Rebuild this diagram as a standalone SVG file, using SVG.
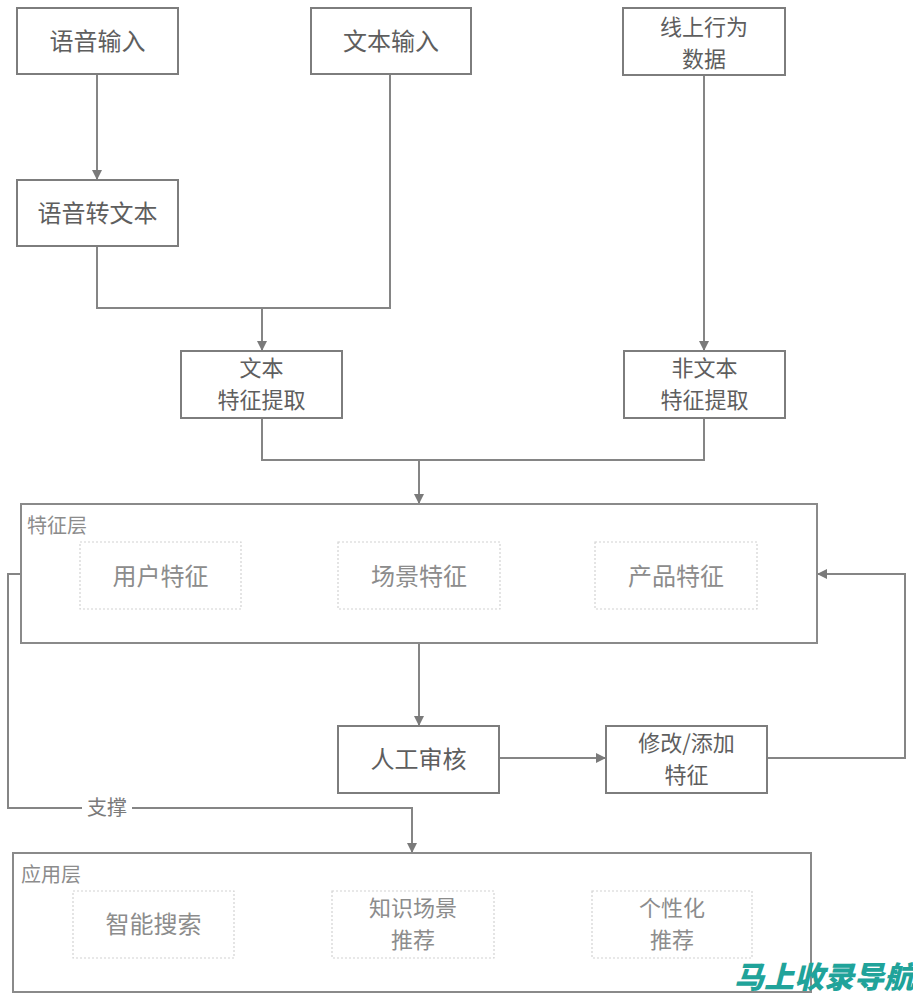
<svg xmlns="http://www.w3.org/2000/svg" width="913" height="1000" viewBox="0 0 913 1000">
<defs>
<marker id="arr" viewBox="0 0 10 10" refX="10" refY="5" markerWidth="10" markerHeight="10" markerUnits="userSpaceOnUse" orient="auto">
<path d="M0,0 L10,5 L0,10 z" fill="#7a7a7a"/>
</marker>
<style>
.box{fill:#fff;stroke:#7d7d7d;stroke-width:2}
.layer{fill:#fff;stroke:#8a8a8a;stroke-width:2}
.inner{fill:#fff;stroke:#d2d2d2;stroke-width:1.2;stroke-dasharray:2 2}
.t{font-family:"Noto Sans CJK SC",sans-serif;font-size:24px;fill:#5e5e5e;text-anchor:middle;dominant-baseline:central}
.ti{font-family:"Noto Sans CJK SC",sans-serif;font-size:24px;fill:#8c8c8c;text-anchor:middle;dominant-baseline:central}
.two{font-size:22px}
.lbl{font-family:"Noto Sans CJK SC",sans-serif;font-size:20px;fill:#8c8c8c;dominant-baseline:central}
.c{fill:none;stroke:#858585;stroke-width:2}
</style>
</defs>
<rect width="913" height="1000" fill="#fff"/>

<g id="connectors">
<path class="c" d="M97,74 V180" marker-end="url(#arr)"/>
<path class="c" d="M97,246 V308 H390 V74"/>
<path class="c" d="M262,308 V351" marker-end="url(#arr)"/>
<path class="c" d="M704,75 V351" marker-end="url(#arr)"/>
<path class="c" d="M262,418 V460 H704 V418"/>
<path class="c" d="M419,460 V504" marker-end="url(#arr)"/>
<path class="c" d="M419,643 V726" marker-end="url(#arr)"/>
<path class="c" d="M499,758 H606" marker-end="url(#arr)"/>
<path class="c" d="M767,758 H905 V574 H817" marker-end="url(#arr)"/>
<path class="c" d="M21,574 H8 V808 H412 V853" marker-end="url(#arr)"/>
<rect x="82" y="796" width="50" height="24" fill="#fff"/>
<text class="lbl" x="107" y="806" text-anchor="middle" style="fill:#7a7a7a">支撑</text>
</g>

<g id="voice-input"><rect class="box" x="17" y="8" width="161" height="66"/><text class="t" x="97.5" y="39">语音输入</text></g>
<g id="text-input"><rect class="box" x="311" y="8" width="160" height="66"/><text class="t" x="391" y="39">文本输入</text></g>
<g id="online-data"><rect class="box" x="623" y="8" width="162" height="67"/><text class="t two" x="704" y="25">线上行为<tspan x="704" dy="32">数据</tspan></text></g>
<g id="speech-to-text"><rect class="box" x="17" y="180" width="161" height="66"/><text class="t" x="97.5" y="211">语音转文本</text></g>
<g id="text-feature"><rect class="box" x="181" y="351" width="161" height="67"/><text class="t two" x="261.5" y="366">文本<tspan x="261.5" dy="32">特征提取</tspan></text></g>
<g id="nontext-feature"><rect class="box" x="624" y="351" width="161" height="67"/><text class="t two" x="704.5" y="366">非文本<tspan x="704.5" dy="32">特征提取</tspan></text></g>

<g id="feature-layer">
<rect class="layer" x="21" y="504" width="796" height="139"/>
<text class="lbl" x="27" y="524">特征层</text>
<g id="user-feature"><rect class="inner" x="80" y="542" width="161" height="67"/><text class="ti" x="160.5" y="574">用户特征</text></g>
<g id="scene-feature"><rect class="inner" x="338" y="542" width="162" height="67"/><text class="ti" x="419" y="574">场景特征</text></g>
<g id="product-feature"><rect class="inner" x="595" y="542" width="162" height="67"/><text class="ti" x="676" y="574">产品特征</text></g>
</g>

<g id="manual-review"><rect class="box" x="338" y="726" width="161" height="67"/><text class="t" x="418.5" y="757">人工审核</text></g>
<g id="modify-feature"><rect class="box" x="606" y="726" width="161" height="67"/><text class="t two" x="686.5" y="741">修改/添加<tspan x="686.5" dy="32">特征</tspan></text></g>

<g id="app-layer">
<rect class="layer" x="13" y="853" width="798" height="139"/>
<text class="lbl" x="21" y="873">应用层</text>
<g id="smart-search"><rect class="inner" x="73" y="891" width="161" height="67"/><text class="ti" x="153.5" y="922">智能搜索</text></g>
<g id="knowledge-rec"><rect class="inner" x="332" y="891" width="162" height="67"/><text class="ti two" x="413" y="906">知识场景<tspan x="413" dy="32">推荐</tspan></text></g>
<g id="personal-rec"><rect class="inner" x="592" y="891" width="160" height="67"/><text class="ti two" x="672" y="906">个性化<tspan x="672" dy="32">推荐</tspan></text></g>
</g>

<text x="734" y="988" font-family="Noto Sans CJK SC,sans-serif" font-size="30" font-weight="900" font-style="italic" fill="#20a39a">马上收录导航</text>
</svg>
